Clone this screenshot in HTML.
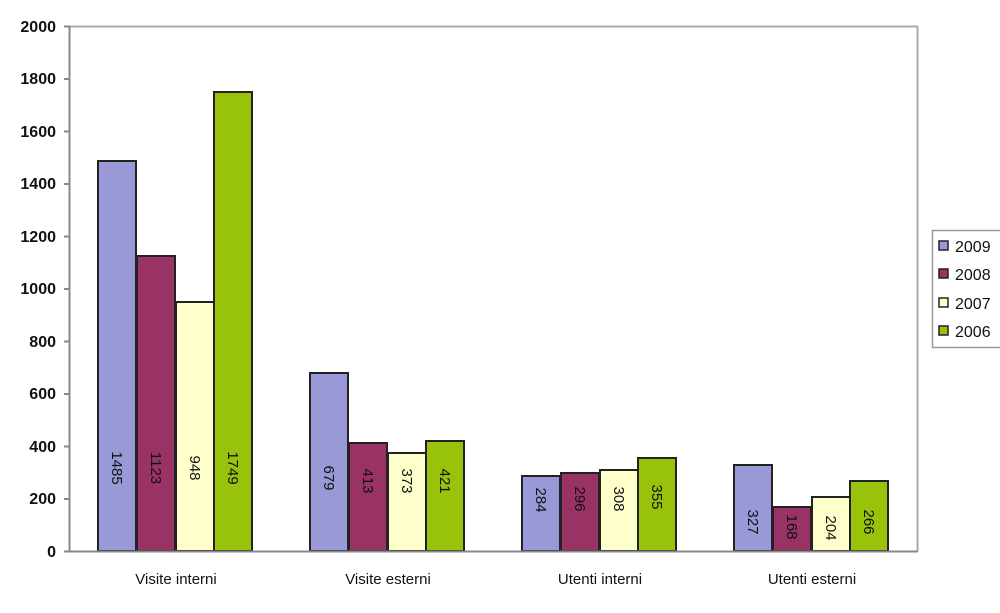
<!DOCTYPE html>
<html><head><meta charset="utf-8"><style>
html,body{margin:0;padding:0;background:#fff;}
svg text{font-family:"Liberation Sans",Arial,sans-serif;fill:#111;}
</style></head><body>
<svg width="1000" height="608" viewBox="0 0 1000 608" xmlns="http://www.w3.org/2000/svg">
<rect x="0" y="0" width="1000" height="608" fill="#fff"/>
<!-- plot border -->
<line x1="70" y1="26.5" x2="918" y2="26.5" stroke="#aaa" stroke-width="2"/>
<line x1="917.5" y1="26" x2="917.5" y2="551" stroke="#aaa" stroke-width="2"/>
<g id="bars" stroke="#222" stroke-width="2">
<!-- group 1 center 176 -->
<rect x="98" y="161" width="38" height="390" fill="#9999d8"/>
<rect x="137" y="256" width="38" height="295" fill="#993366"/>
<rect x="176" y="302" width="38" height="249" fill="#ffffcc"/>
<rect x="214" y="92" width="38" height="459" fill="#99c20a"/>
<!-- group 2 center 388 -->
<rect x="310" y="373" width="38" height="178" fill="#9999d8"/>
<rect x="349" y="443" width="38" height="108" fill="#993366"/>
<rect x="388" y="453" width="38" height="98" fill="#ffffcc"/>
<rect x="426" y="441" width="38" height="110" fill="#99c20a"/>
<!-- group 3 center 600 -->
<rect x="522" y="476" width="38" height="75" fill="#9999d8"/>
<rect x="561" y="473" width="38" height="78" fill="#993366"/>
<rect x="600" y="470" width="38" height="81" fill="#ffffcc"/>
<rect x="638" y="458" width="38" height="93" fill="#99c20a"/>
<!-- group 4 center 812 -->
<rect x="734" y="465" width="38" height="86" fill="#9999d8"/>
<rect x="773" y="507" width="38" height="44" fill="#993366"/>
<rect x="812" y="497" width="38" height="54" fill="#ffffcc"/>
<rect x="850" y="481" width="38" height="70" fill="#99c20a"/>
</g>
<!-- axes -->
<line x1="69.5" y1="26" x2="69.5" y2="552" stroke="#888" stroke-width="2"/>
<line x1="64" y1="551.5" x2="918" y2="551.5" stroke="#888" stroke-width="2"/>
<g stroke="#888" stroke-width="2">
<line x1="64" y1="26.5" x2="70" y2="26.5"/><line x1="64" y1="79" x2="70" y2="79"/>
<line x1="64" y1="131.5" x2="70" y2="131.5"/><line x1="64" y1="184" x2="70" y2="184"/>
<line x1="64" y1="236.5" x2="70" y2="236.5"/><line x1="64" y1="289" x2="70" y2="289"/>
<line x1="64" y1="341.5" x2="70" y2="341.5"/><line x1="64" y1="394" x2="70" y2="394"/>
<line x1="64" y1="446.5" x2="70" y2="446.5"/><line x1="64" y1="499" x2="70" y2="499"/>
</g>
<g font-size="16" text-anchor="end" font-weight="bold">
<text x="56" y="32">2000</text><text x="56" y="84">1800</text>
<text x="56" y="137">1600</text><text x="56" y="189">1400</text>
<text x="56" y="242">1200</text><text x="56" y="294">1000</text>
<text x="56" y="347">800</text><text x="56" y="399">600</text>
<text x="56" y="452">400</text><text x="56" y="504">200</text>
<text x="56" y="557">0</text>
</g>
<g font-size="15" text-anchor="middle">
<text x="176" y="584">Visite interni</text>
<text x="388" y="584">Visite esterni</text>
<text x="600" y="584">Utenti interni</text>
<text x="812" y="584">Utenti esterni</text>
</g>
<g font-size="15" text-anchor="middle">
<text transform="translate(112,468) rotate(90)">1485</text>
<text transform="translate(151,468) rotate(90)">1123</text>
<text transform="translate(190,468) rotate(90)">948</text>
<text transform="translate(228,468) rotate(90)">1749</text>
<text transform="translate(324,478) rotate(90)">679</text>
<text transform="translate(363,481) rotate(90)">413</text>
<text transform="translate(402,481) rotate(90)">373</text>
<text transform="translate(440,481) rotate(90)">421</text>
<text transform="translate(536,500) rotate(90)">284</text>
<text transform="translate(575,499) rotate(90)">296</text>
<text transform="translate(614,499) rotate(90)">308</text>
<text transform="translate(652,497) rotate(90)">355</text>
<text transform="translate(748,522) rotate(90)">327</text>
<text transform="translate(787,527) rotate(90)">168</text>
<text transform="translate(826,528) rotate(90)">204</text>
<text transform="translate(864,522) rotate(90)">266</text>
</g>
<!-- legend -->
<rect x="932.5" y="230.5" width="80" height="117" fill="#fff" stroke="#999" stroke-width="1.5"/>
<g stroke="#222" stroke-width="1.5">
<rect x="939" y="241" width="9" height="9" fill="#9999d8"/>
<rect x="939" y="269" width="9" height="9" fill="#993366"/>
<rect x="939" y="298" width="9" height="9" fill="#ffffcc"/>
<rect x="939" y="326" width="9" height="9" fill="#99c20a"/>
</g>
<g font-size="16">
<text x="955" y="252">2009</text><text x="955" y="280">2008</text>
<text x="955" y="309">2007</text><text x="955" y="337">2006</text>
</g>
</svg>
</body></html>
